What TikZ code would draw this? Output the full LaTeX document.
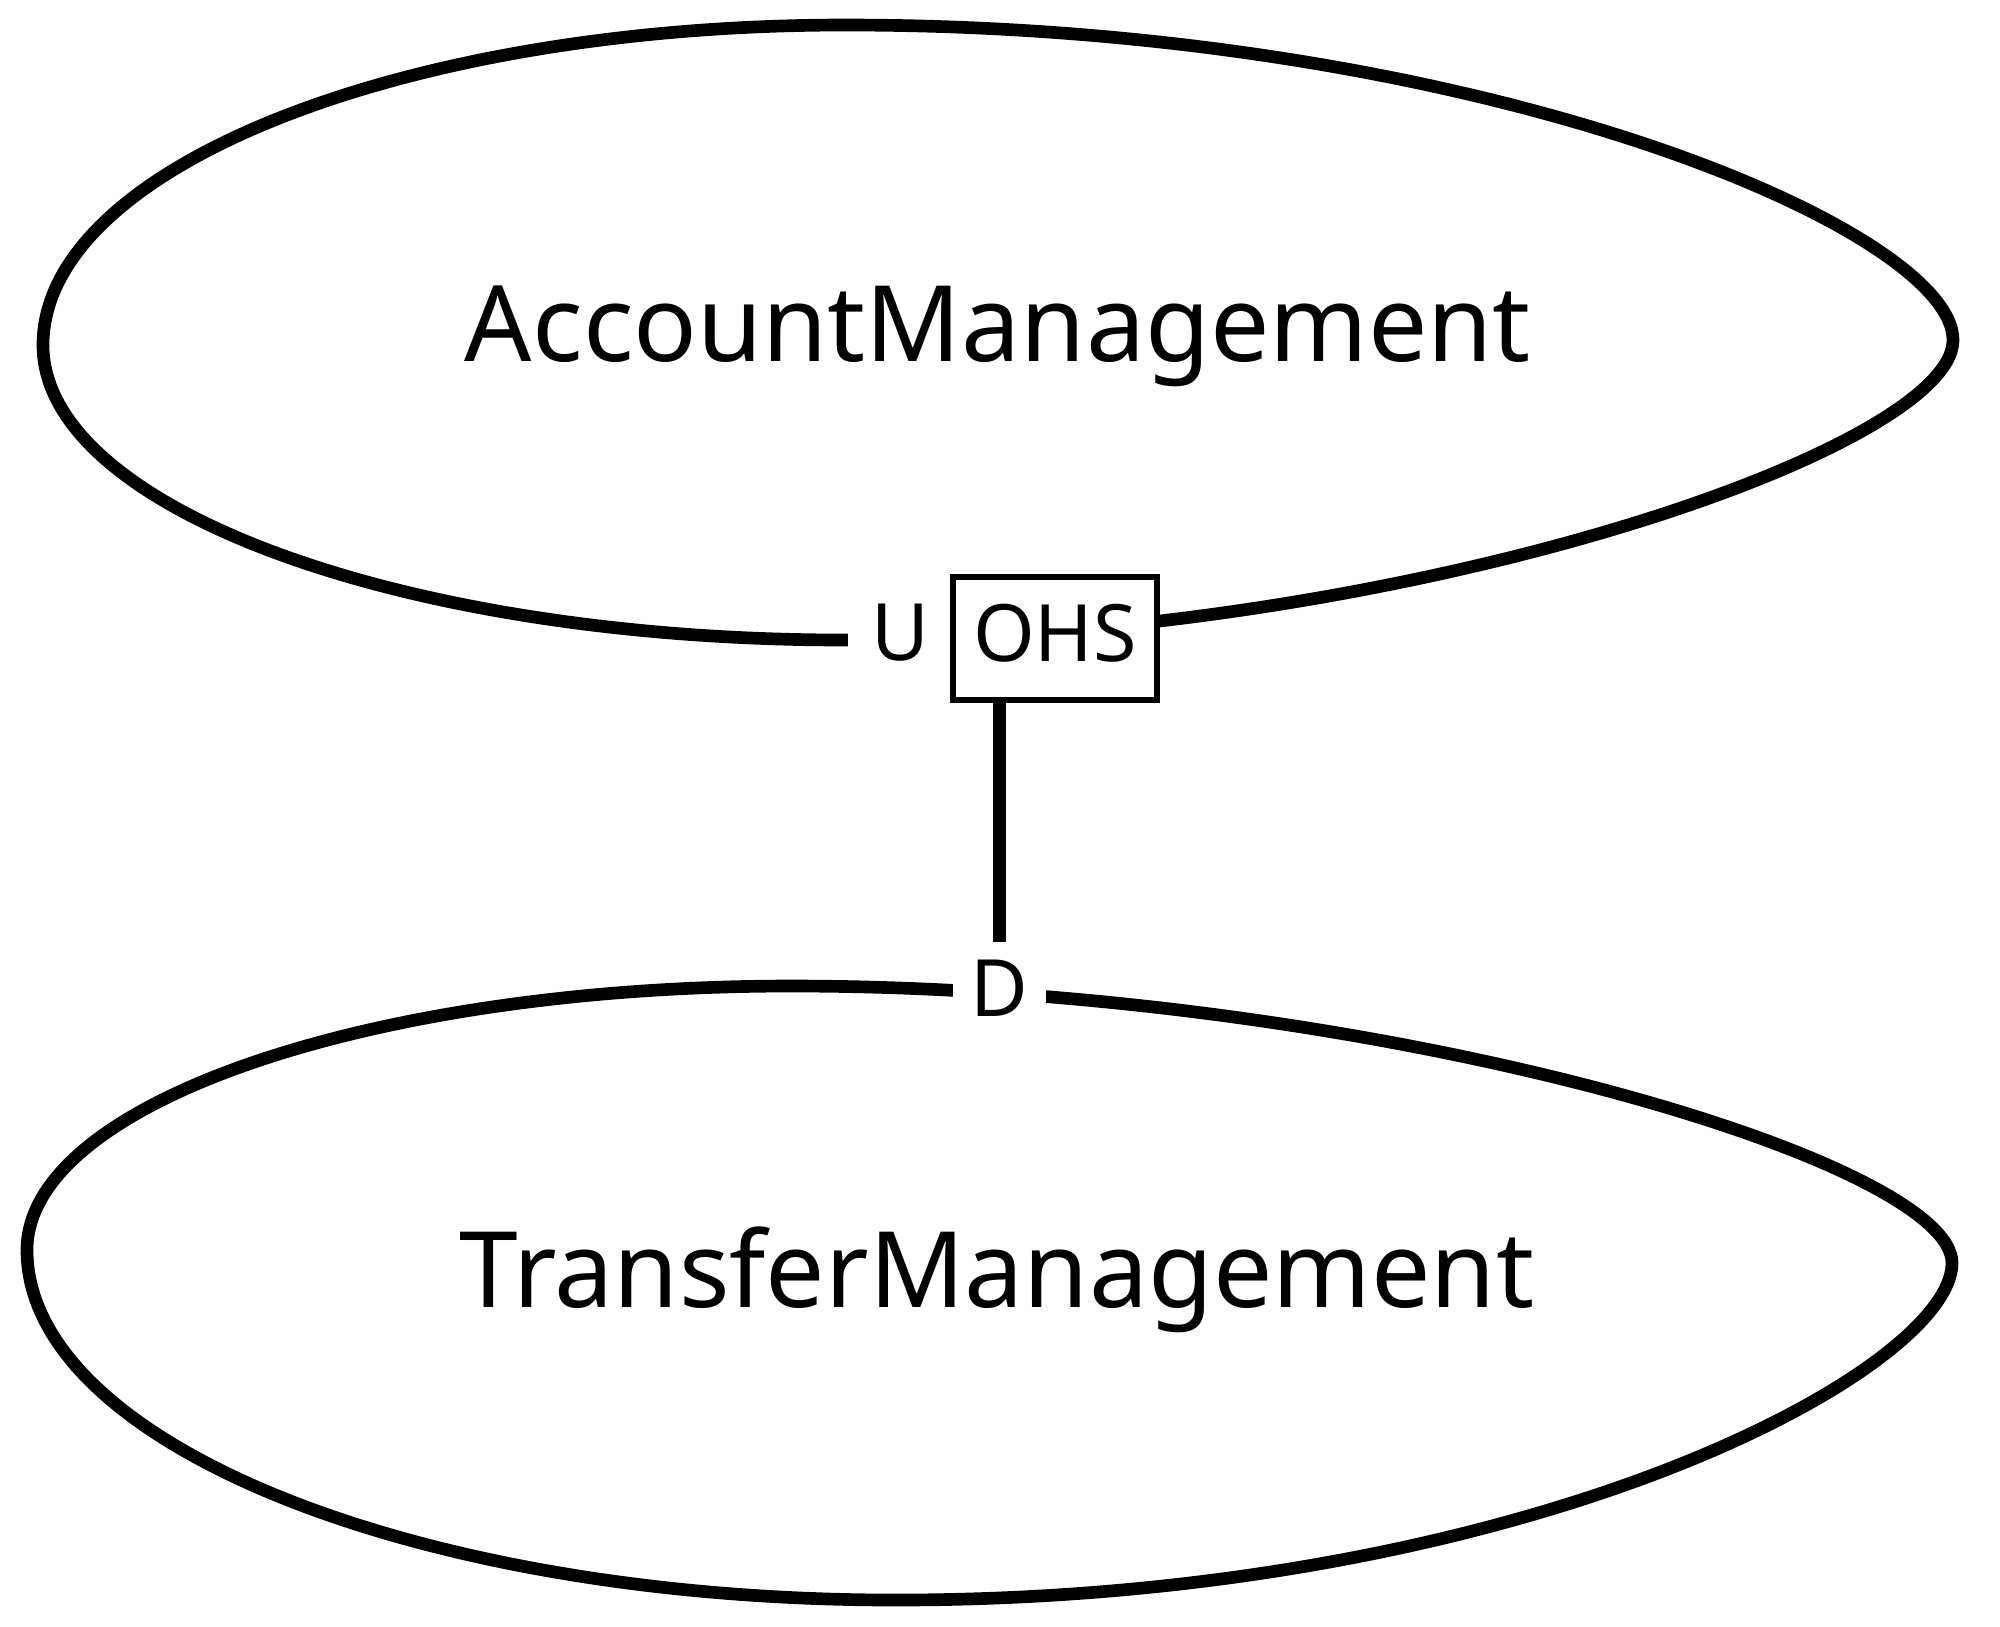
\documentclass[tikz,border=0pt]{standalone}
\usepackage{fontspec}
\setmainfont{Noto Sans}
\usetikzlibrary{positioning}

\begin{document}
\begin{tikzpicture}[x=0.01cm,y=-0.01cm,
        rim/.style={line width=3.6pt},
        ctxname/.style={font=\fontsize{30}{36}\selectfont,anchor=base},
        role/.style={font=\fontsize{22.5}{27}\selectfont,fill=white,inner sep=0pt,outer sep=0pt},
        ohsbox/.style={role,draw,line width=1.7pt,minimum width=2.04cm,minimum height=1.23cm}]
    \useasboundingbox (0,0) rectangle (2000,1626);
    \draw[rim] (845,640) .. controls (402,640) and (43,508) .. (43,345)
                .. controls (43,168) and (402,25) .. (845,25)
                .. controls (1480,25) and (1953,230) .. (1953,340)
                .. controls (1953,450) and (1400,640) .. cycle;
    \draw[rim] (791,986) .. controls (369,986) and (27,1104) .. (27,1250)
                .. controls (27,1443) and (416,1600) .. (895,1600)
                .. controls (1529,1600) and (1952,1370) .. (1952,1263)
                .. controls (1952,1160) and (1371,986) .. cycle;
    \node[ctxname] (acct) at (998,361) {AccountManagement};
    \node[ctxname] (xfer) at (997,1307) {TransferManagement};
    \node[role,text depth=0.12cm,minimum width=1.05cm,minimum height=0.8cm] (up) at (900.5,638.5) {U};
    \node[ohsbox,text depth=0.12cm,right=0pt of up] (ohs) {OHS};
    \node[role,text depth=0.04cm,minimum width=0.93cm,minimum height=0.96cm] (down) at (999.5,990) {D};
    \draw[rim] (down.north |- ohs.south) -- (down.north);
\end{tikzpicture}
\end{document}
